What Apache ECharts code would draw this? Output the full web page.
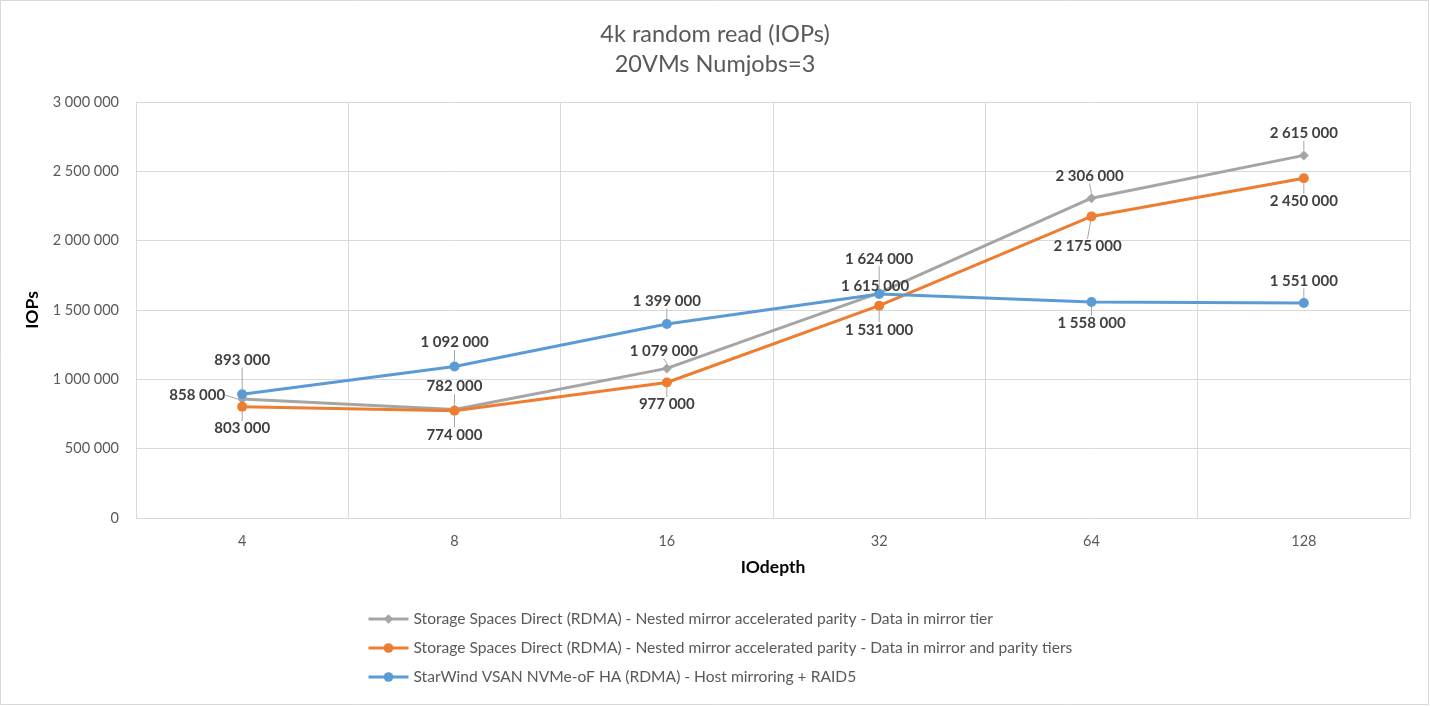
<!DOCTYPE html>
<html><head><meta charset="utf-8">
<script src="https://cdn.jsdelivr.net/npm/echarts@6/dist/echarts.min.js"></script>
<style>html,body{margin:0;padding:0;background:#fff}#c{width:1430px;height:706px}</style>
</head><body><div id="c"></div>
<script>
const categories = ['4','8','16','32','64','128'];
const seriesNames = [
  'Storage Spaces Direct (RDMA) - Nested mirror accelerated parity - Data in mirror tier',
  'Storage Spaces Direct (RDMA) - Nested mirror accelerated parity - Data in mirror and parity tiers',
  'StarWind VSAN NVMe-oF HA (RDMA) - Host mirroring + RAID5'
];
const grayValues = [858000, 782000, 1079000, 1624000, 2306000, 2615000];
const orangeValues = [803000, 774000, 977000, 1531000, 2175000, 2450000];
const blueValues = [893000, 1092000, 1399000, 1615000, 1558000, 1551000];
const yTicks = [0, 500000, 1000000, 1500000, 2000000, 2500000, 3000000];

// label offsets (px) relative to the point centre
const grayOff = [[-45,-4],[0,-23],[-3,-17],[0,-34],[-2,-22],[0,-22]];
const orangeOff = [[0,22],[0,24],[0,22],[0,24],[-4,30],[0,23]];
const blueOff = [[0,-34],[0,-24],[0,-23],[-4,-8],[0,21],[0,-22]];

const fmt = v => String(v).replace(/\B(?=(\d{3})+(?!\d))/g, ' ');
const FONT = 'Lato';

function mk(name, data, color, symbol, size, offs) {
  return {
    name, type: 'line', data, symbol, symbolSize: size,
    lineStyle: { color, width: 3 }, itemStyle: { color },
    label: { show: true, position: 'inside', formatter: p => fmt(p.value),
      fontFamily: FONT, fontWeight: 'bold', fontSize: 15, color: '#404040' },
    labelLine: { show: true, lineStyle: { color: '#a6a6a6', width: 1 } },
    labelLayout: function (p) {
      const o = offs[p.dataIndex];
      const cx = p.rect.x + p.rect.width / 2, cy = p.rect.y + p.rect.height / 2;
      return { x: cx + o[0], y: cy + o[1], align: 'center', verticalAlign: 'middle' };
    },
    emphasis: { disabled: true }
  };
}

const chart = echarts.init(document.getElementById('c'));
chart.setOption({
  animation: false,
  backgroundColor: '#fff',
  title: { text: '4k random read (IOPs)\n20VMs Numjobs=3', left: 'center', top: 14,
    textStyle: { fontFamily: FONT, fontWeight: 'normal', fontSize: 23.5, color: '#595959', lineHeight: 30 } },
  grid: { left: 136, right: 20, top: 102, bottom: 188 },
  legend: { orient: 'vertical', left: 362, top: 606, itemWidth: 40, itemHeight: 12, itemGap: 13,
    data: seriesNames, lineStyle: { width: 3 },
    textStyle: { fontFamily: FONT, fontSize: 15.6, color: '#595959' } },
  xAxis: { type: 'category', data: categories, boundaryGap: true,
    name: 'IOdepth', nameLocation: 'middle', nameGap: 40,
    nameTextStyle: { fontFamily: FONT, fontWeight: 'bold', fontSize: 17.5, color: '#000' },
    axisLine: { show: true, lineStyle: { color: '#d9d9d9' } }, axisTick: { show: false },
    axisLabel: { fontFamily: FONT, fontSize: 14.5, color: '#595959', margin: 16 },
    splitLine: { show: true, lineStyle: { color: '#d9d9d9' } } },
  yAxis: { type: 'value', min: 0, max: 3000000, interval: 500000,
    name: 'IOPs', nameLocation: 'middle', nameGap: 93, nameRotate: 90,
    nameTextStyle: { fontFamily: FONT, fontWeight: 'bold', fontSize: 17.5, color: '#000' },
    axisLine: { show: true, lineStyle: { color: '#d9d9d9' } }, axisTick: { show: false },
    axisLabel: { fontFamily: FONT, fontSize: 14.5, color: '#595959', margin: 17, formatter: v => fmt(v) },
    splitLine: { show: true, lineStyle: { color: '#d9d9d9' } } },
  graphic: [{ type: 'rect', shape: { x: 0.5, y: 0.5, width: 1428, height: 704 },
    style: { fill: 'none', stroke: '#d9d9d9', lineWidth: 1 }, silent: true }],
  series: [
    mk(seriesNames[0], grayValues, '#a5a5a5', 'diamond', 10, grayOff),
    mk(seriesNames[1], orangeValues, '#ed7d31', 'circle', 10, orangeOff),
    mk(seriesNames[2], blueValues, '#5b9bd5', 'circle', 10, blueOff)
  ]
});
</script></body></html>
